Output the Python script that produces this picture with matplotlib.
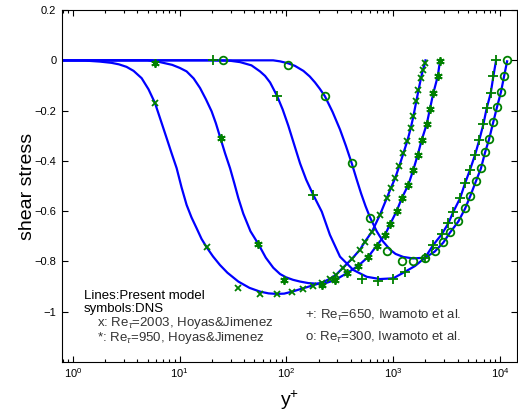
import numpy as np
import matplotlib
matplotlib.use("Agg")
import matplotlib.pyplot as plt
from matplotlib.ticker import LogLocator, NullFormatter

plt.rcParams['font.family'] = ['Liberation Sans', 'DejaVu Sans']
plt.rcParams['mathtext.fontset'] = 'custom'
plt.rcParams['mathtext.rm'] = 'Liberation Sans'
plt.rcParams['mathtext.it'] = 'Liberation Sans:italic'

# ---------------- model lines ----------------
A_yp = [0.5, 1.3, 1.79, 2.3, 2.7, 3.18, 3.7, 4.4, 5.1, 5.87, 6.6, 7.55, 8.4, 9.36, 10.4,
        11.6, 12.9, 14.4, 16.0, 17.9, 20.5, 23.8, 28, 35.4, 45, 56.5, 68, 81, 95, 113,
        140, 177, 215, 255, 291, 338, 411, 488, 543, 633, 751, 868, 947, 1038, 1140,
        1243, 1355, 1457, 1542, 1634, 1717, 1809, 1888, 1983, 2003]
A_val = [0, -0.001, -0.005, -0.010, -0.016, -0.026, -0.042, -0.071, -0.115, -0.170,
         -0.235, -0.310, -0.370, -0.429, -0.505, -0.575, -0.625, -0.668, -0.710, -0.744,
         -0.780, -0.814, -0.845, -0.880, -0.905, -0.920, -0.927, -0.929, -0.928, -0.920,
         -0.908, -0.895, -0.884, -0.869, -0.853, -0.825, -0.789, -0.753, -0.721, -0.681,
         -0.614, -0.549, -0.509, -0.470, -0.420, -0.370, -0.320, -0.270, -0.223, -0.168,
         -0.122, -0.075, -0.040, -0.011, 0]

B_yp = [0.5, 5.0, 6.53, 8.5, 10.0, 11.6, 13.5, 15.5, 17.6, 19.9, 21.8, 23.8, 26.6, 29.6,
        32.5, 35.4, 39.4, 46, 54.4, 64, 75.2, 87, 98.9, 115, 134, 160, 185, 229, 285,
        366, 471, 584, 700, 837, 933, 1077, 1200, 1384, 1542, 1694, 1848, 2057, 2208,
        2372, 2608, 2742]
B_val = [0, 0, -0.007, -0.018, -0.030, -0.044, -0.072, -0.110, -0.155, -0.203, -0.250,
         -0.303, -0.370, -0.429, -0.490, -0.548, -0.610, -0.680, -0.730, -0.785, -0.825,
         -0.850, -0.863, -0.873, -0.880, -0.886, -0.888, -0.887, -0.874, -0.847, -0.817,
         -0.781, -0.737, -0.694, -0.652, -0.599, -0.549, -0.495, -0.435, -0.376, -0.316,
         -0.254, -0.192, -0.130, -0.064, -0.001]

C_yp = [0.5, 20.4, 30, 36.7, 47, 56.5, 63, 70.2, 81.5, 92, 104, 118, 134, 153, 178, 214,
        255, 317, 423, 564, 751, 1000, 1288, 1599, 1983, 2372, 2844, 3280, 3655, 4220,
        4700, 5235, 5830, 6400, 6980, 7500, 8180, 8650, 9180]
C_val = [0, 0, -0.002, -0.007, -0.020, -0.044, -0.062, -0.088, -0.141, -0.195, -0.260,
         -0.335, -0.410, -0.475, -0.535, -0.602, -0.694, -0.781, -0.834, -0.861, -0.870,
         -0.867, -0.841, -0.818, -0.785, -0.734, -0.692, -0.648, -0.602, -0.549, -0.489,
         -0.435, -0.376, -0.316, -0.254, -0.190, -0.130, -0.064, 0.0]

D_yp = [0.5, 75, 86.9, 104, 120, 144, 165, 185, 205, 229, 270, 317, 360, 408, 455, 500,
        550, 606, 700, 800, 933, 1050, 1240, 1530, 1983, 2440, 2940, 3400, 4070, 4700,
        5235, 5930, 6620, 7220, 7880, 8600, 9350, 10200, 10900, 11640]
D_val = [0, 0, -0.004, -0.012, -0.022, -0.042, -0.064, -0.088, -0.113, -0.143, -0.205,
         -0.275, -0.340, -0.409, -0.475, -0.530, -0.580, -0.625, -0.680, -0.720, -0.753,
         -0.770, -0.782, -0.788, -0.785, -0.761, -0.725, -0.685, -0.641, -0.590, -0.542,
         -0.482, -0.430, -0.368, -0.315, -0.249, -0.187, -0.126, -0.064, -0.004]

# ---------------- DNS symbols ----------------
Ax_yp = [5.87, 17.9, 35.4, 56.5, 82, 113, 143, 177, 215, 255, 291, 338, 411, 488, 543,
         633, 751, 868, 947, 1038, 1140, 1243, 1355, 1457, 1542, 1634, 1717, 1809, 1888, 1983]
Ax_val = [-0.170, -0.744, -0.904, -0.931, -0.931, -0.920, -0.908, -0.896, -0.884, -0.869,
          -0.853, -0.825, -0.789, -0.753, -0.721, -0.681, -0.614, -0.549, -0.509, -0.470,
          -0.420, -0.370, -0.320, -0.270, -0.223, -0.163, -0.117, -0.071, -0.037, -0.011]

Bs_yp = [5.9, 24.3, 54.2, 95, 215, 285, 366, 471, 584, 700, 837, 933, 1077, 1200, 1384,
         1542, 1694, 1848, 2057, 2208, 2372, 2608, 2742]
Bs_val = [-0.01, -0.307, -0.729, -0.874, -0.893, -0.874, -0.847, -0.817, -0.781, -0.737,
          -0.694, -0.652, -0.599, -0.549, -0.495, -0.435, -0.376, -0.316, -0.254, -0.192,
          -0.130, -0.064, -0.001]

Cp_yp = [20.4, 81.5, 178, 508, 721, 1000, 1288, 1983, 2372, 2844, 3280, 3655, 4220, 4700,
         5235, 5830, 6400, 6980, 7500, 8180, 8650, 9180]
Cp_val = [0.0, -0.143, -0.535, -0.870, -0.878, -0.870, -0.841, -0.785, -0.734, -0.692,
          -0.648, -0.602, -0.549, -0.489, -0.435, -0.376, -0.316, -0.254, -0.190, -0.130,
          -0.064, 0.003]

Do_yp = [25.4, 103, 229, 408, 606, 870, 1210, 1530, 1983, 2440, 2950, 3400, 4080, 4700,
         5235, 5930, 6620, 7220, 7880, 8640, 9430, 10200, 10900, 11560]
Do_val = [0.0, -0.017, -0.143, -0.409, -0.628, -0.758, -0.800, -0.800, -0.788, -0.757,
          -0.721, -0.681, -0.639, -0.586, -0.538, -0.479, -0.429, -0.365, -0.312, -0.246,
          -0.187, -0.126, -0.064, 0.003]

yticks = [-1, -0.8, -0.6, -0.4, -0.2, 0, 0.2]
ytick_labels = ['\u22121', '\u22120.8', '\u22120.6', '\u22120.4', '\u22120.2', '0', '0.2']
xticks = [1, 10, 100, 1000, 10000]
xtick_labels = ['$10^{0}$', '$10^{1}$', '$10^{2}$', '$10^{3}$', '$10^{4}$']

BLUE = '#0000FF'
GREEN = '#008000'

fig = plt.figure(figsize=(5.18, 4.19), dpi=100)
ax = fig.add_axes([0.1197, 0.136, 0.8783, 0.840])

for xs, ys in [(A_yp, A_val), (B_yp, B_val), (C_yp, C_val), (D_yp, D_val)]:
    ax.plot(xs, ys, color=BLUE, lw=1.6, zorder=2, solid_joinstyle='round')

mk = dict(linestyle='none', color=GREEN, mfc='none', mec=GREEN, mew=1.3, zorder=3)
ax.plot(Ax_yp, Ax_val, marker='x', ms=4.5, **mk)
ax.plot(Bs_yp, Bs_val, marker=(6, 2, 0), ms=6, **mk)
ax.plot(Cp_yp, Cp_val, marker='+', ms=6.5, **mk)
ax.plot(Do_yp, Do_val, marker='o', ms=5.5, **mk)

ax.set_xscale('log')
ax.set_xlim(0.79, 14400)
ax.set_ylim(-1.2, 0.2)
ax.set_yticks(yticks)
ax.set_yticklabels(ytick_labels)
ax.set_xticks(xticks)
ax.set_xticklabels(xtick_labels)
ax.xaxis.set_minor_locator(LogLocator(base=10, subs=np.arange(2, 10), numticks=20))
ax.xaxis.set_minor_formatter(NullFormatter())
ax.tick_params(which='both', direction='in', top=True, right=True, labelsize=8,
               width=0.8)
ax.tick_params(which='major', length=4)
ax.tick_params(which='minor', length=2)
ax.tick_params(axis='x', pad=3)
ax.tick_params(axis='y', pad=4)
for s in ax.spines.values():
    s.set_linewidth(0.8)

ax.set_ylabel('shear stress', fontsize=14, labelpad=-1)
ax.set_xlabel('$\\mathregular{y^{+}}$', fontsize=14, labelpad=6)

tfs = 9.5
ax.text(1.27, -0.936, 'Lines:Present model', fontsize=tfs, va='center', ha='left')
ax.text(1.27, -0.988, 'symbols:DNS', fontsize=tfs, va='center', ha='left')
ax.text(1.67, -1.043, 'x: Re$_{\\tau}$=2003, Hoyas&Jimenez', fontsize=tfs, va='center',
        ha='left', color='#333333')
ax.text(1.67, -1.106, '*: Re$_{\\tau}$=950, Hoyas&Jimenez', fontsize=tfs, va='center',
        ha='left', color='#333333')
ax.text(149, -1.013, '+: Re$_{\\tau}$=650, Iwamoto et al.', fontsize=tfs, va='center',
        ha='left', color='#333333')
ax.text(149, -1.104, 'o: Re$_{\\tau}$=300, Iwamoto et al.', fontsize=tfs, va='center',
        ha='left', color='#333333')

fig.savefig('out.png', dpi=100)
